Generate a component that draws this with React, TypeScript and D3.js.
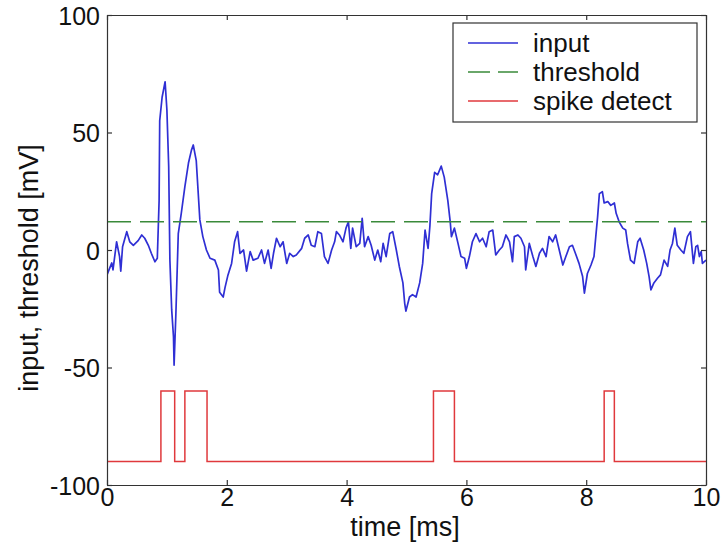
import React, { useRef, useEffect } from "react";
import * as d3 from "d3";

// input trace (time in ms, voltage in mV)
const timeMs = [
  0, 0.08, 0.1, 0.16, 0.21, 0.23, 0.26, 0.33, 0.38, 0.44, 0.52, 0.58, 0.63, 0.69, 0.74, 0.8, 0.84, 0.87, 0.88, 0.92,
  0.97, 1.0, 1.03, 1.05, 1.08, 1.11, 1.12, 1.15, 1.19, 1.24, 1.3, 1.36, 1.41, 1.44, 1.49, 1.55, 1.6, 1.66, 1.72, 1.8,
  1.86, 1.88, 1.94, 1.97, 2.02, 2.08, 2.13, 2.18, 2.22, 2.28, 2.33, 2.39, 2.44, 2.52, 2.58, 2.63, 2.69, 2.74, 2.78, 2.83,
  2.89, 2.94, 3.0, 3.05, 3.11, 3.16, 3.25, 3.3, 3.36, 3.41, 3.47, 3.52, 3.58, 3.63, 3.69, 3.75, 3.8, 3.83, 3.88, 3.94,
  3.99, 4.03, 4.07, 4.1, 4.16, 4.22, 4.26, 4.3, 4.36, 4.41, 4.47, 4.52, 4.57, 4.61, 4.66, 4.72, 4.77, 4.83, 4.88, 4.94,
  4.97, 4.99, 5.05, 5.1, 5.16, 5.22, 5.27, 5.31, 5.36, 5.39, 5.42, 5.47, 5.52, 5.58, 5.63, 5.69, 5.73, 5.75, 5.8, 5.86,
  5.91, 5.97, 6.0, 6.05, 6.1, 6.16, 6.22, 6.27, 6.33, 6.38, 6.44, 6.49, 6.55, 6.6, 6.66, 6.72, 6.77, 6.8, 6.86, 6.91,
  6.97, 6.99, 7.05, 7.11, 7.16, 7.22, 7.27, 7.33, 7.38, 7.44, 7.49, 7.55, 7.61, 7.66, 7.72, 7.77, 7.83, 7.88, 7.94, 7.97,
  8.02, 8.08, 8.13, 8.16, 8.19, 8.22, 8.27, 8.3, 8.36, 8.41, 8.47, 8.5, 8.55, 8.61, 8.66, 8.69, 8.74, 8.8, 8.86, 8.9,
  8.96, 9.01, 9.05, 9.08, 9.13, 9.19, 9.24, 9.3, 9.36, 9.4, 9.44, 9.48, 9.52, 9.58, 9.63, 9.69, 9.74, 9.79, 9.83, 9.86,
  9.89, 9.92, 9.94, 10.0,
];
const inputMv = [
  -10.6, -5.5, -8.5, 3.5, -2.8, -9, 1.4, 7.8, 3.5, 2, 4, 6.4, 5, 2, -1.4, -5, -3.5, 21, 55, 65,
  71.6, 59.6, 35.5, -4.3, -25.5, -37, -49, -27, 7, 15.6, 27, 37, 42.5, 44.7, 38, 12.8, 5.7, 0, -3.5, -4.3,
  -8.5, -18, -20, -16, -10.6, -5.7, 3.5, 7.8, -1.4, 0, -9, -0.7, -4.3, -3.5, 0, -5.7, 0, -7.8, -1.4, 5,
  1.4, 3.5, -5.7, -1.4, -2.8, -2.1, 0.7, 5, 6.4, 2, 1.4, 7.8, 7, -2.8, -5.7, 0, 3.5, 7.8, 6.4, 3.5,
  9.3, 12, 0.7, 9.3, 1.4, 2.8, 13.5, 1.4, 5.7, 2, -4.3, 0, -5, 2.8, -2.8, 7, 7.8, 0, -7, -14,
  -22.7, -26, -20, -19, -20, -14, -5.7, 8.5, 0.7, 10, 24, 33, 32, 35.7, 31, 21, 12, 5.7, 9.3, 2.8,
  -2.8, -3.5, -7.8, -2.8, 3.5, 7, 3.5, 5, 1.4, 7.8, 8.5, -2.1, 0, 1.4, 6.4, 3.5, -5, 5.7, 6.4, 5,
  1.4, -8.5, 2.8, -2.8, -7, -1.4, 0.7, -2.8, 5.7, 3.5, 6.4, 0, -6.4, -2.8, 1.4, 2, -2.1, -5.7, -11.3, -18.4,
  -10, -6.4, -2.8, 5.7, 14, 24, 24.8, 20, 20.6, 19, 20, 15.6, 12, 9.3, 8.5, 2.8, -4.3, -5.7, 3.5, 5,
  0, -5.7, -11.3, -17, -14, -12, -10.6, -4.3, -7, 0, 2.8, 9.3, 2, 0, -1.4, 5.7, 7.8, -5.7, 1.4, 2,
  -2.8, -0.7, -5.7, -4.3,
];

const thresholdMv = 12;

// spike detector output: level changes (step after)
const spikeTimes = [0, 0.9, 1.13, 1.3, 1.67, 5.45, 5.8, 8.3, 8.47, 10];
const spikeLevels = [-90, -60, -90, -60, -90, -60, -90, -60, -90, -90];

const xTicks = [0, 2, 4, 6, 8, 10];
const yTicks = [-100, -50, 0, 50, 100];

const legendLabels = ["input", "threshold", "spike detect"];

const FONT = "'Liberation Sans', Arial, Helvetica, sans-serif";
const BLUE = "#2f2fd4";
const GREEN = "#3a8a3a";
const RED = "#e0393c";
const AXIS = "#333";

export default function App() {
  const svgRef = useRef<SVGSVGElement>(null);
  const width = 721;
  const height = 552;

  useEffect(() => {
    const svg = d3.select(svgRef.current);
    svg.selectAll("*").remove();

    const margin = { top: 15, right: 15, bottom: 67, left: 107 };
    const w = width - margin.left - margin.right;
    const h = height - margin.top - margin.bottom;

    svg.append("rect").attr("width", width).attr("height", height).attr("fill", "#fff");

    const g = svg.append("g").attr("transform", `translate(${margin.left},${margin.top})`);

    const x = d3.scaleLinear().domain([0, 10]).range([0, w]);
    const y = d3.scaleLinear().domain([-100, 100]).range([h, 0]);

    g.append("defs")
      .append("clipPath")
      .attr("id", "plotClip")
      .append("rect")
      .attr("width", w)
      .attr("height", h);

    const plot = g.append("g").attr("clip-path", "url(#plotClip)");

    // input
    const input = timeMs.map((t, i) => ({ t, v: inputMv[i] }));
    const line = d3
      .line<{ t: number; v: number }>()
      .x((d) => x(d.t))
      .y((d) => y(d.v));
    plot
      .append("path")
      .datum(input)
      .attr("d", line)
      .attr("fill", "none")
      .attr("stroke", BLUE)
      .attr("stroke-width", 1.7)
      .attr("stroke-linejoin", "round");

    // threshold
    plot
      .append("line")
      .attr("x1", x(0))
      .attr("x2", x(10))
      .attr("y1", y(thresholdMv))
      .attr("y2", y(thresholdMv))
      .attr("stroke", GREEN)
      .attr("stroke-width", 1.5)
      .attr("stroke-dasharray", "24,9");

    // spike detect
    const spikes = spikeTimes.map((t, i) => ({ t, v: spikeLevels[i] }));
    plot
      .append("path")
      .datum(spikes)
      .attr("d", line.curve(d3.curveStepAfter))
      .attr("fill", "none")
      .attr("stroke", RED)
      .attr("stroke-width", 1.5);

    // axes, ticks inward on all sides (matlab style, plain hyphen minus)
    const tickLen = 5;
    const fmt = (d: d3.NumberValue) => String(d);
    const bottom = g
      .append("g")
      .attr("transform", `translate(0,${h})`)
      .call(d3.axisBottom(x).tickValues(xTicks).tickSizeInner(-tickLen).tickSizeOuter(0).tickFormat(fmt));
    const left = g
      .append("g")
      .call(d3.axisLeft(y).tickValues(yTicks).tickSizeInner(-tickLen).tickSizeOuter(0).tickPadding(7).tickFormat(fmt));
    g.append("g").call(d3.axisTop(x).tickValues(xTicks).tickSizeInner(-tickLen).tickSizeOuter(0).tickFormat(() => ""));
    g.append("g")
      .attr("transform", `translate(${w},0)`)
      .call(d3.axisRight(y).tickValues(yTicks).tickSizeInner(-tickLen).tickSizeOuter(0).tickFormat(() => ""));

    [bottom, left].forEach((a) =>
      a.selectAll("text").attr("fill", "#111").attr("font-size", "25px").attr("font-family", FONT)
    );
    bottom.selectAll("text").attr("y", 21).attr("dy", 0);
    left.selectAll("text").attr("dy", "0.36em");
    g.selectAll(".domain, .tick line").attr("stroke", AXIS).attr("stroke-width", 1.2);

    // axis titles
    g.append("text")
      .attr("x", 298)
      .attr("y", h + 51)
      .attr("text-anchor", "middle")
      .attr("font-family", FONT)
      .attr("font-size", "27px")
      .attr("fill", "#111")
      .text("time [ms]");
    g.append("text")
      .attr("transform", `translate(${-69},${h / 2 + 18}) rotate(-90)`)
      .attr("text-anchor", "middle")
      .attr("font-family", FONT)
      .attr("font-size", "27px")
      .attr("fill", "#111")
      .text("input, threshold [mV]");

    // legend
    const lg = svg.append("g").attr("transform", "translate(453,23)");
    lg.append("rect")
      .attr("width", 244)
      .attr("height", 99)
      .attr("fill", "#fff")
      .attr("stroke", AXIS)
      .attr("stroke-width", 1.2);
    const styles = [
      { color: BLUE, dash: null },
      { color: GREEN, dash: "22,8" },
      { color: RED, dash: null },
    ];
    legendLabels.forEach((label, i) => {
      const cy = 20 + i * 29;
      lg.append("line")
        .attr("x1", 15)
        .attr("x2", 65)
        .attr("y1", cy)
        .attr("y2", cy)
        .attr("stroke", styles[i].color)
        .attr("stroke-width", 1.5)
        .attr("stroke-dasharray", styles[i].dash);
      lg.append("text")
        .attr("x", 80)
        .attr("y", cy)
        .attr("dy", "0.35em")
        .attr("font-family", FONT)
        .attr("font-size", "26px")
        .attr("fill", "#111")
        .text(label);
    });
  }, []);

  return (
    <svg
      ref={svgRef}
      width={width}
      height={height}
      style={{ position: "absolute", left: 0, top: 0 }}
    />
  );
}
